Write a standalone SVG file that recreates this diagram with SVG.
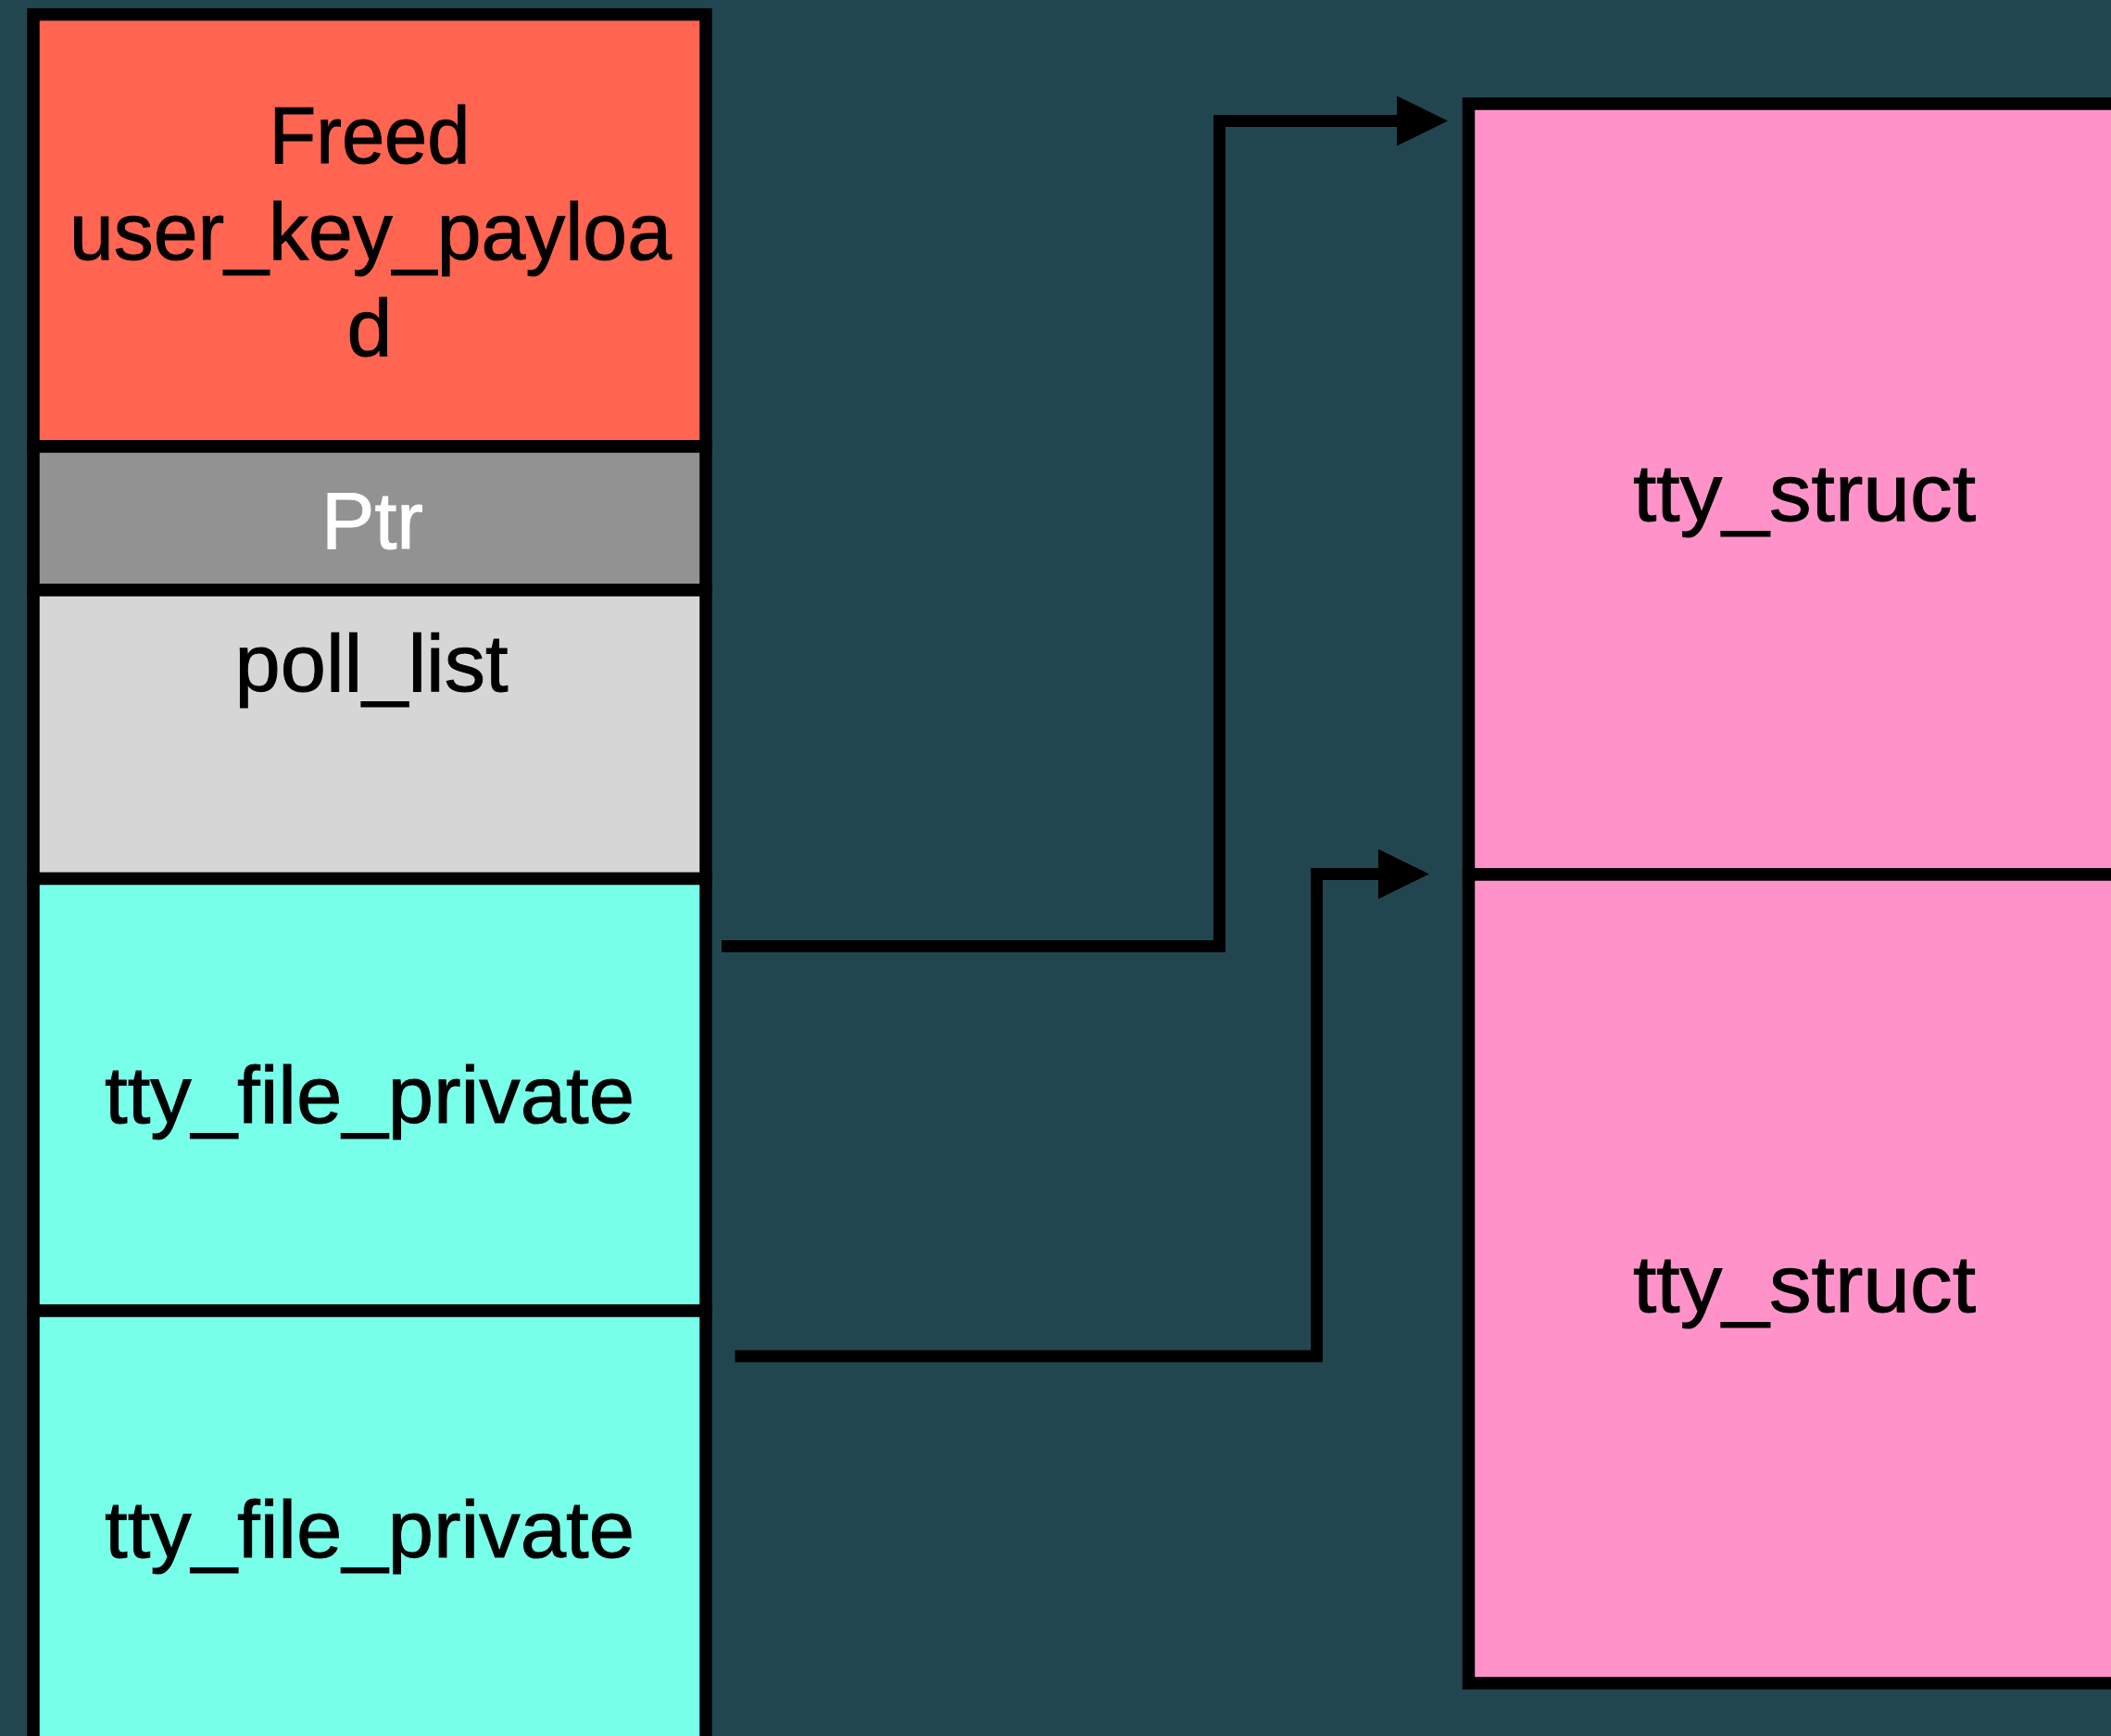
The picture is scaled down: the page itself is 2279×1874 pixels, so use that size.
<svg xmlns="http://www.w3.org/2000/svg" width="2279" height="1874" viewBox="0 0 2279 1874">
  <style>
    .cell { stroke: #000; stroke-width: 13.5; }
    .lbl { font-family: "Liberation Sans", Arial, Helvetica, sans-serif; font-size: 88px; fill: #000; stroke: #000; stroke-width: 1; text-anchor: middle; }
    .light { fill: #fff; stroke: #fff; }
    .wire { fill: none; stroke: #000; stroke-width: 13; stroke-linejoin: miter; stroke-linecap: butt; }
  </style>
  <defs>
    <marker id="head" markerUnits="userSpaceOnUse" viewBox="0 0 55 54" markerWidth="55" markerHeight="54" refX="0" refY="27" orient="auto">
      <path d="M0,0 L55,27 L0,54 Z" fill="#000"/>
    </marker>
  </defs>

  <rect width="2279" height="1874" fill="#224650"/>

  <!-- left memory column -->
  <g id="freed-user-key-payload">
    <rect class="cell" x="36" y="15.6" width="726" height="466.4" fill="#FF6550"/>
    <text class="lbl" x="399" y="176" textLength="217" lengthAdjust="spacingAndGlyphs">Freed</text>
    <text class="lbl" x="400" y="280" textLength="650" lengthAdjust="spacingAndGlyphs">user_key_payloa</text>
    <text class="lbl" x="399" y="384">d</text>
  </g>
  <g id="ptr">
    <rect class="cell" x="36" y="482" width="726" height="155" fill="#929292"/>
    <text class="lbl light" x="402" y="591.5" textLength="110" lengthAdjust="spacingAndGlyphs">Ptr</text>
  </g>
  <g id="poll-list">
    <rect class="cell" x="36" y="637" width="726" height="311.5" fill="#D6D6D6"/>
    <text class="lbl" x="401" y="746" textLength="295" lengthAdjust="spacingAndGlyphs">poll_list</text>
  </g>
  <g id="tty-file-private-1">
    <rect class="cell" x="36" y="948.5" width="726" height="466.5" fill="#78FFEA"/>
    <text class="lbl" x="399" y="1212" textLength="572" lengthAdjust="spacingAndGlyphs">tty_file_private</text>
  </g>
  <g id="tty-file-private-2">
    <rect class="cell" x="36" y="1415" width="726" height="500" fill="#78FFEA"/>
    <text class="lbl" x="399" y="1681" textLength="572" lengthAdjust="spacingAndGlyphs">tty_file_private</text>
  </g>

  <!-- right column -->
  <g id="tty-struct-1">
    <rect class="cell" x="1585.5" y="112" width="760" height="832" fill="#FF93C9"/>
    <text class="lbl" x="1948" y="561.5" textLength="370" lengthAdjust="spacingAndGlyphs">tty_struct</text>
  </g>
  <g id="tty-struct-2">
    <rect class="cell" x="1585.5" y="944" width="760" height="873" fill="#FF93C9"/>
    <text class="lbl" x="1948" y="1416" textLength="370" lengthAdjust="spacingAndGlyphs">tty_struct</text>
  </g>

  <!-- pointers -->
  <g id="connectors">
    <path class="wire" d="M779,1021.5 H1316.5 V130.5 H1508" marker-end="url(#head)"/>
    <path class="wire" d="M793.5,1464 H1421.5 V943.5 H1488" marker-end="url(#head)"/>
  </g>
</svg>
